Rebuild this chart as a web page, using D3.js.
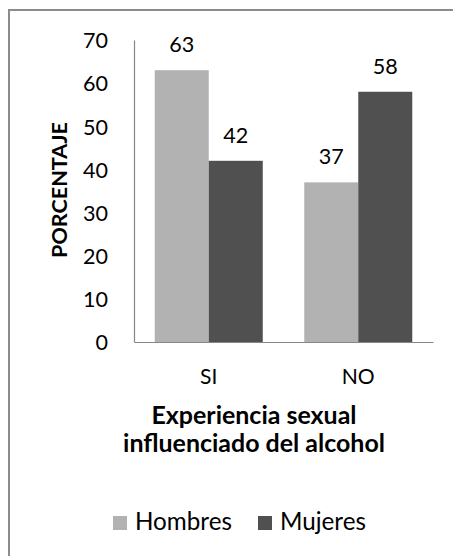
<!DOCTYPE html>
<html>
<head>
<meta charset="utf-8">
<script src="https://cdn.jsdelivr.net/npm/d3@7/dist/d3.min.js"></script>
<style>
  html, body { margin: 0; padding: 0; background: #fff; }
  svg { display: block; font-family: Lato, "Open Sans", sans-serif; }
</style>
</head>
<body>
<svg id="chart" width="453" height="556"></svg>
<script>
const categories = ["SI", "NO"];
const series = ["Hombres", "Mujeres"];
const hombres = [63, 37];
const mujeres = [42, 58];
const yTicks = [0, 10, 20, 30, 40, 50, 60, 70];
const yTitle = "PORCENTAJE";
const xTitleLines = ["Experiencia sexual", "influenciado del alcohol"];
const colors = ["#b2b2b2", "#505050"];

const values = [hombres, mujeres];
const svg = d3.select("#chart");

// font size that gives a sample string a wanted width
function sizeFor(sample, width, weight) {
  const t = svg.append("text").attr("font-size", 100).attr("font-weight", weight || "normal").text(sample);
  const w = t.node().getComputedTextLength();
  t.remove();
  return 100 * width / w;
}
const fsTick = sizeFor("70", 25);
const fsValue = sizeFor("63", 25);
const fsCat = sizeFor("NO", 33);
const fsXTitle = sizeFor(xTitleLines[1], 262, "bold");
const fsYTitle = sizeFor(yTitle, 136, "bold");
const fsLegend = sizeFor("Hombres", 97);

// frame (right and bottom edges fall outside the picture)
svg.append("rect")
  .attr("x", 9).attr("y", 10).attr("width", 520).attr("height", 600)
  .attr("fill", "none").attr("stroke", "#8c8c8c").attr("stroke-width", 2);

const x0 = d3.scaleBand().domain(categories).range([134, 433]).paddingInner(0).paddingOuter(0);
const x1 = d3.scaleBand().domain(series).range([0, x0.bandwidth()]).paddingInner(0).paddingOuter(0.384);
const y = d3.scaleLinear().domain([0, 70]).range([342, 40]);

// bars and value labels
const g = svg.append("g");
categories.forEach((c, ci) => {
  series.forEach((s, si) => {
    const v = values[si][ci];
    g.append("rect")
      .attr("x", x0(c) + x1(s))
      .attr("y", y(v))
      .attr("width", x1.bandwidth())
      .attr("height", y(0) - y(v))
      .attr("fill", colors[si]);
    g.append("text")
      .attr("x", x0(c) + x1(s) + x1.bandwidth() / 2)
      .attr("y", y(v) - 18)
      .attr("text-anchor", "middle")
      .attr("font-size", fsValue)
      .attr("fill", "#000")
      .text(v);
  });
});

// y axis
const yAxis = svg.append("g").attr("transform", "translate(134,0)")
  .call(d3.axisLeft(y).tickValues(yTicks).tickSize(0).tickSizeOuter(0).tickPadding(26));
yAxis.select(".domain").attr("stroke", "#868686").attr("stroke-width", 1.2);
yAxis.selectAll("text").attr("font-size", fsTick).attr("font-family", "Lato").attr("fill", "#000").attr("dy", "0.36em");

// x axis
const xAxis = svg.append("g").attr("transform", "translate(0,342)")
  .call(d3.axisBottom(x0).tickSize(0).tickSizeOuter(0).tickPadding(0));
xAxis.select(".domain").attr("stroke", "#868686").attr("stroke-width", 1.2);
xAxis.selectAll("text").attr("font-size", fsCat).attr("font-family", "Lato").attr("fill", "#000")
  .attr("dy", 0).attr("y", 42);

// y title
svg.append("text")
  .attr("transform", "translate(67,190) rotate(-90)")
  .attr("text-anchor", "middle")
  .attr("font-size", fsYTitle).attr("font-weight", "bold")
  .text(yTitle);

// x title
xTitleLines.forEach((line, i) => {
  svg.append("text")
    .attr("x", 254).attr("y", 424 + i * 28)
    .attr("text-anchor", "middle")
    .attr("font-size", fsXTitle).attr("font-weight", "bold")
    .text(line);
});

// legend
const legendX = [113, 258];
series.forEach((s, i) => {
  svg.append("rect").attr("x", legendX[i]).attr("y", 516).attr("width", 14).attr("height", 14).attr("fill", colors[i]);
  svg.append("text").attr("x", legendX[i] + 22).attr("y", 530)
    .attr("font-size", fsLegend).text(s);
});
</script>
</body>
</html>
